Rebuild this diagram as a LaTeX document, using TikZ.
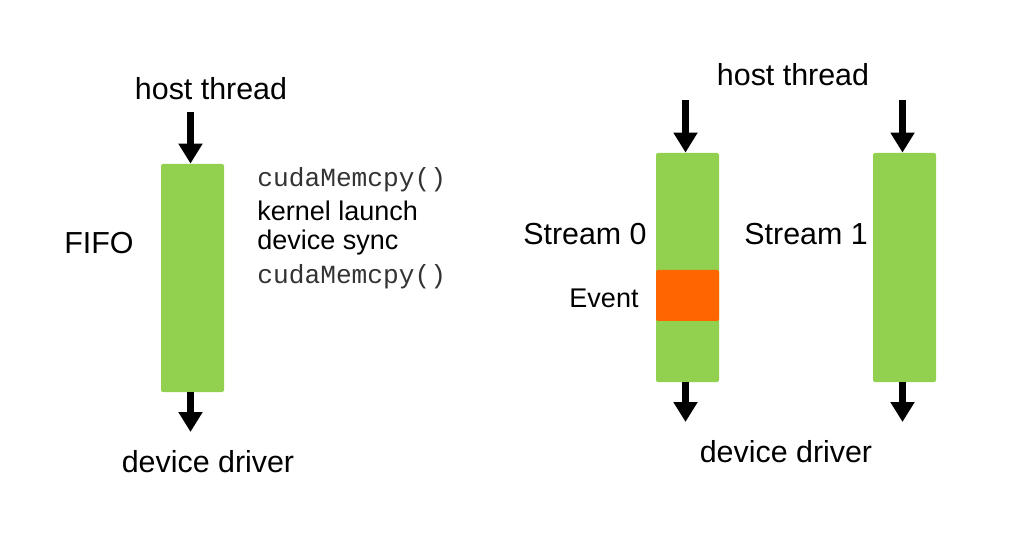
\documentclass[tikz,border=0pt]{standalone}
\usepackage{fontspec}
\setmainfont{Liberation Sans}
\setmonofont{Liberation Mono}
\usetikzlibrary{arrows.meta}
\definecolor{barg}{HTML}{92D050}
\definecolor{evto}{HTML}{FF6600}
\definecolor{monog}{HTML}{333333}
\tikzset{
  bar/.style={fill=barg, draw=none, rounded corners=1pt, minimum width=31.5pt, inner sep=0pt},
  evbox/.style={fill=evto, draw=none, rounded corners=1pt, minimum width=31.5pt, minimum height=25.5pt, inner sep=0pt},
  arr/.style={line width=3.5pt, -{Triangle[width=11.5pt,length=10pt]}},
  lbl/.style={font=\fontsize{15.2pt}{18pt}\selectfont, inner sep=0pt},
  sml/.style={font=\fontsize{13.5pt}{16pt}\selectfont, inner sep=0pt},
  mono/.style={font=\fontsize{13.1pt}{16pt}\selectfont\ttfamily, text=monog, inner sep=0pt}
}
\begin{document}
\begin{tikzpicture}[x=0.5pt,y=-0.5pt]
\useasboundingbox (0,0) rectangle (1021,550);
% left FIFO
\node[bar, minimum height=114pt] (lbar) at (192.5,278) {};
\node[lbl] (lhost) at (211,89) {host thread};
\node[lbl] (fifo) at (99,243) {FIFO};
\node[lbl] (ldrv) at (208,462) {device driver};
\node[mono, anchor=base west] (c1) at (257,187) {cudaMemcpy()};
\node[sml, anchor=base west] (c2) at (257,220.5) {kernel launch};
\node[sml, anchor=base west] (c3) at (257,250) {device sync};
\node[mono, anchor=base west] (c4) at (257,284) {cudaMemcpy()};
\coordinate (lt) at (190.5,112);
\coordinate (lb) at (190.5,432);
\draw[arr] (lt) -- (lt |- lbar.north);
\draw[arr] (lb |- lbar.south) -- (lb);
% right streams
\node[bar, minimum height=114.5pt] (s0) at (687.5,267.5) {};
\node[evbox] (ev) at (687.5,295.5) {};
\node[bar, minimum height=114.5pt] (s1) at (904.5,267.5) {};
\node[lbl] (rhost) at (793,75) {host thread};
\node[lbl, anchor=east] (s0l) at (647,234) {Stream 0};
\node[lbl, anchor=west] (s1l) at (744,234) {Stream 1};
\node[sml] (evl) at (604,298) {Event};
\node[lbl] (rdrv) at (786,452) {device driver};
\coordinate (t0) at (685.5,100);
\coordinate (b0) at (685.5,422);
\coordinate (t1) at (902.5,100);
\coordinate (b1) at (902.5,422);
\draw[arr] (t0) -- (t0 |- s0.north);
\draw[arr] (b0 |- s0.south) -- (b0);
\draw[arr] (t1) -- (t1 |- s1.north);
\draw[arr] (b1 |- s1.south) -- (b1);
\end{tikzpicture}
\end{document}
